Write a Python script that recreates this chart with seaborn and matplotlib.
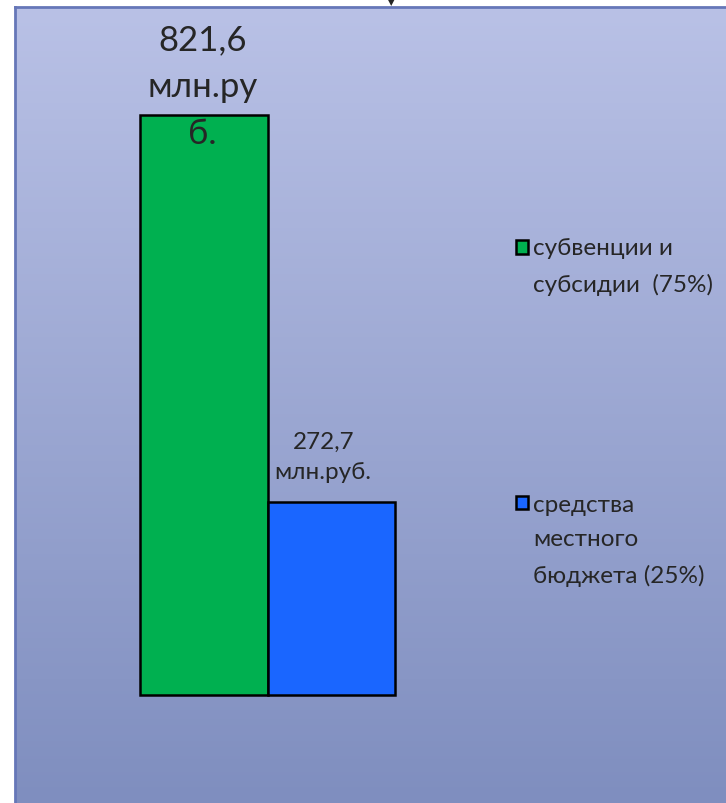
import numpy as np
import seaborn as sns
import matplotlib.pyplot as plt
from matplotlib.colors import LinearSegmentedColormap
from matplotlib.patches import Rectangle
from matplotlib.legend_handler import HandlerPatch

# data
categories = ["субвенции и\nсубсидии  (75%)", "средства\nместного\nбюджета (25%)"]
values = [821.6, 272.7]
value_labels = ["821,6\nмлн.ру\nб.", "272,7\nмлн.руб."]
bar_colors = ["#00B050", "#1A66FF"]

sns.set_style("white")
plt.rcParams['font.family'] = ['Lato', 'DejaVu Sans']

W, H = 726, 804
fig = plt.figure(figsize=(W / 100, H / 100), dpi=100)

# gradient background panel
bg = fig.add_axes([15 / W, 0, 1 - 15 / W, (H - 8) / H], zorder=0)
cmap = LinearSegmentedColormap.from_list("bg", ["#B9C1E6", "#7F8EBF"])
bg.imshow(np.linspace(0, 1, 256).reshape(-1, 1), aspect="auto", cmap=cmap,
          extent=[0, 1, 0, 1])
bg.set_xticks([])
bg.set_yticks([])
for side in ["right", "bottom"]:
    bg.spines[side].set_visible(False)
for side in ["left", "top"]:
    bg.spines[side].set_color("#6677B8")
    bg.spines[side].set_linewidth(2)

# small marker above the panel
fig.text(391 / W, 1 - 3 / H, "▼", ha="center", va="center", fontsize=6,
         family="DejaVu Sans")

# bar axes: x from -0.5 to 1.5 spans 140..395 px, y 0..821.6 spans 696..116 px
ax = fig.add_axes([140 / W, (H - 696) / H, 255 / W, 580 / H], zorder=1)
ax.patch.set_alpha(0)
sns.barplot(x=categories, y=values, hue=categories, palette=bar_colors,
            saturation=1, width=1, edgecolor="black", linewidth=1.8,
            legend=False, ax=ax)
ax.set_xlim(-0.5, 1.5)
ax.set_ylim(0, values[0])
ax.set_axis_off()
for p in ax.patches:
    p.set_clip_on(False)

ax.annotate(value_labels[0], (0, values[0]), xytext=(-1, 29),
            textcoords="offset pixels", ha="center", va="center",
            fontsize=25, linespacing=1.56, annotation_clip=False)
ax.annotate(value_labels[1], (1, values[1]), xytext=(-8, 46),
            textcoords="offset pixels", ha="center", va="center",
            fontsize=17.5, linespacing=1.55, annotation_clip=False)


# legend squares sit next to the first line of each label
def top_handler(shift):
    def patch_func(legend, orig_handle, xdescent, ydescent, width, height, fontsize):
        return Rectangle((-xdescent, -ydescent + shift), width, height)
    return HandlerPatch(patch_func=patch_func)


handles = ax.patches[:len(categories)]
shifts = [13.5, 27]
leg = ax.legend(handles, categories,
                handler_map={h: top_handler(s) for h, s in zip(handles, shifts)},
                loc="upper left", bbox_to_anchor=(516 / W, 1 - 238 / H),
                bbox_transform=fig.transFigure, frameon=False, borderpad=0,
                borderaxespad=0, fontsize=17.5, labelspacing=8.2,
                handlelength=0.48, handleheight=0.48, handletextpad=0.22)
for t in leg.get_texts():
    t.set_linespacing(1.8)

fig.savefig("out.png", dpi=100)
